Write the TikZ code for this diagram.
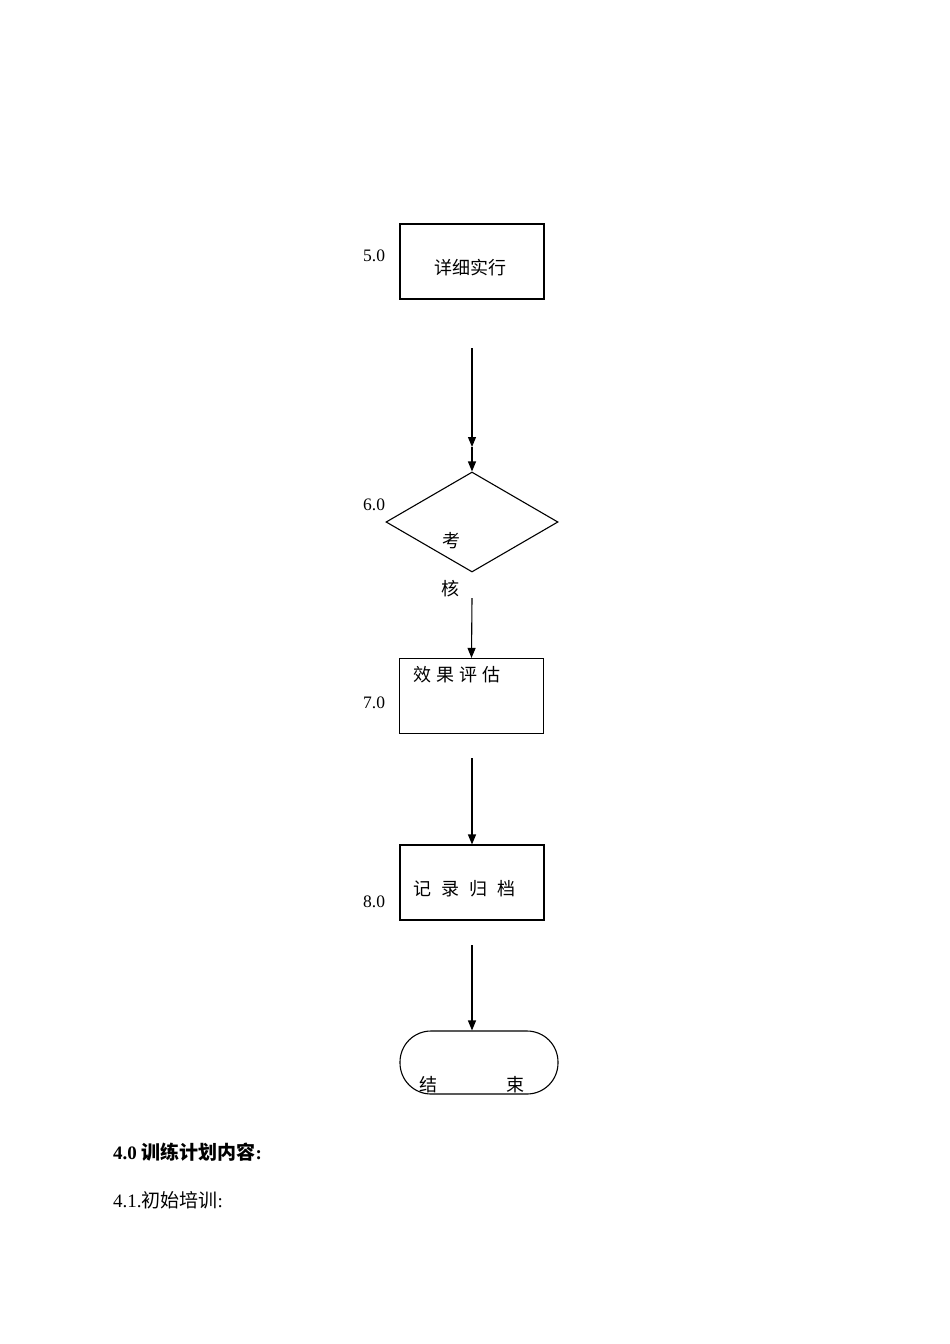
\documentclass[tikz,border=0pt]{standalone}
\usepackage{fontspec}
\setmainfont{Liberation Serif}
\newfontfamily\cjk{Noto Sans CJK SC}
\usetikzlibrary{shapes.geometric,arrows.meta}
\tikzset{
  boxshape/.style={draw,line width=1.1pt,minimum width=144pt,minimum height=75pt,inner sep=0pt},
  lbl/.style={inner sep=0pt,font=\fontsize{17.5pt}{20pt}\selectfont},
  ctext/.style={inner sep=0pt,font=\fontsize{18pt}{20pt}\selectfont\cjk},
  flow/.style={line width=1.1pt,-{Triangle[length=10pt,width=8pt]}}
}
\begin{document}
\begin{tikzpicture}[x=1pt,y=-1pt]
\useasboundingbox (0,0) rectangle (950,1344);
% step 5.0
\node[boxshape] (b5) at (472,261.5) {};
\node[ctext] (t5) at (470,268) {详细实行};
\node[lbl,anchor=west] (n5) at (363,256) {5.0};
% connector 5->6 (double tip)
\coordinate (a5s) at (472,348);
\coordinate (a5m) at (472,447);
% step 6.0 decision
\node[draw,diamond,line width=1.1pt,minimum width=172pt,minimum height=100pt,inner sep=0pt] (d6) at (472,522) {};
\node[ctext] (t6a) at (451,541) {考};
\node[ctext] (t6b) at (450,589) {核};
\node[lbl,anchor=west] (n6) at (363,505) {6.0};
\draw[flow] (a5s) -- (a5m);
\draw[flow] (a5m) -- (d6.north);
% step 7.0
\node[boxshape] (b7) at (471.5,696) {};
\node[ctext,anchor=west] (t7) at (413,675) {效\hspace{5pt}果\hspace{5pt}评\hspace{5pt}估};
\node[lbl,anchor=west] (n7) at (363,703) {7.0};
\coordinate (a6s) at (472,598);
\draw[flow] (a6s) -- (b7.north);
% step 8.0
\node[boxshape] (b8) at (472,882.5) {};
\node[ctext,anchor=west] (t8) at (413,889) {记\hspace{10pt}录\hspace{10pt}归\hspace{10pt}档};
\node[lbl,anchor=west] (n8) at (363,902) {8.0};
\coordinate (a7s) at (472,758);
\draw[flow] (a7s) -- (b8.north);
% end
\node[draw,line width=1.1pt,rounded corners=31pt,minimum width=158pt,minimum height=63pt,inner sep=0pt] (e) at (479,1062.5) {};
\node[ctext] (te1) at (428,1085) {结};
\node[ctext] (te2) at (515,1085) {束};
\coordinate (a8s) at (472,945);
\draw[flow] (a8s) -- (e.north -| a8s);
% text below
\node[lbl,anchor=west,font=\fontsize{19pt}{22pt}\selectfont\bfseries] (h40) at (113,1152) {4.0 {\cjk 训练计划内容}:};
\node[lbl,anchor=west,font=\fontsize{19pt}{22pt}\selectfont] (h41) at (113,1200) {4.1.{\cjk 初始培训}:};
\end{tikzpicture}
\end{document}
